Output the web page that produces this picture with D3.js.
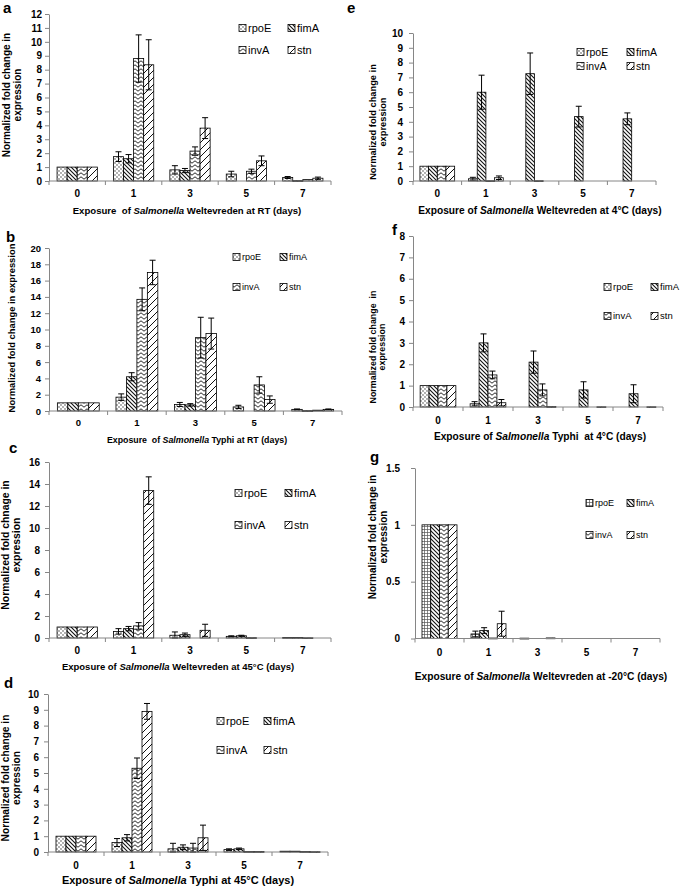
<!DOCTYPE html>
<html>
<head>
<meta charset="utf-8">
<script src="https://cdn.jsdelivr.net/npm/d3@7"></script>
<style>
  body { margin: 0; background: #fff; }
  text { font-family: "Liberation Sans", Arial, sans-serif; }
</style>
</head>
<body>
<div id="chart"></div>
<script>
// categories and series (rows: rpoE, fimA, invA, stn; columns: days 0,1,3,5,7)
var categories = ["0", "1", "3", "5", "7"];
var genes = ["rpoE", "fimA", "invA", "stn"];

// a: Weltevreden at RT
var aMean = [[1, 1.75, 0.8, 0.5, 0.25], [1, 1.6, 0.75, 0, 0.03], [1, 8.8, 2.15, 0.7, 0.1], [1, 8.35, 3.8, 1.45, 0.2]];
var aErr  = [[0, 0.35, 0.3, 0.2, 0.07], [0, 0.3, 0.15, 0, 0], [0, 1.7, 0.3, 0.15, 0], [0, 1.8, 0.75, 0.35, 0.08]];
var aTicks = [0, 1, 2, 3, 4, 5, 6, 7, 8, 9, 10, 11, 12];

// b: Typhi at RT
var bMean = [[1, 1.7, 0.8, 0.5, 0.2], [1, 4.2, 0.75, 0, 0.05], [1, 13.7, 9.0, 3.2, 0.1], [1, 17.0, 9.5, 1.4, 0.2]];
var bErr  = [[0, 0.4, 0.25, 0.2, 0.05], [0, 0.5, 0.15, 0, 0], [0, 1.4, 2.5, 1.0, 0], [0, 1.5, 1.9, 0.45, 0.05]];
var bTicks = [0, 2, 4, 6, 8, 10, 12, 14, 16, 18, 20];

// c: Weltevreden at 45°C
var cMean = [[1, 0.6, 0.25, 0.15, 0.05], [1, 0.85, 0.3, 0.2, 0.05], [1, 1.1, 0, 0.03, 0.02], [1, 13.4, 0.7, 0, 0]];
var cErr  = [[0, 0.25, 0.3, 0.05, 0], [0, 0.2, 0.15, 0.05, 0], [0, 0.3, 0, 0, 0], [0, 1.25, 0.55, 0, 0]];
var cTicks = [0, 2, 4, 6, 8, 10, 12, 14, 16];

// d: Typhi at 45°C
var dMean = [[1, 0.6, 0.2, 0.15, 0.05], [1, 0.9, 0.3, 0.2, 0.05], [1, 5.3, 0.25, 0.03, 0.03], [1, 8.9, 0.9, 0.03, 0.02]];
var dErr  = [[0, 0.25, 0.35, 0.05, 0], [0, 0.2, 0.15, 0.05, 0], [0, 0.65, 0.3, 0, 0], [0, 0.5, 0.8, 0, 0]];
var dTicks = [0, 1, 2, 3, 4, 5, 6, 7, 8, 9, 10];

// e: Weltevreden at 4°C
var eMean = [[1, 0.15, 0, 0, 0], [1, 6.0, 7.25, 4.35, 4.2], [1, 0.02, 0.02, 0, 0], [1, 0.22, 0, 0, 0]];
var eErr  = [[0, 0.1, 0, 0, 0], [0, 1.15, 1.4, 0.7, 0.4], [0, 0, 0, 0, 0], [0, 0.12, 0, 0, 0]];
var eTicks = [0, 1, 2, 3, 4, 5, 6, 7, 8, 9, 10];

// f: Typhi at 4°C
var fMean = [[1, 0.15, 0, 0, 0], [1, 3.0, 2.1, 0.8, 0.62], [1, 1.5, 0.8, 0, 0], [1, 0.2, 0.02, 0.01, 0.01]];
var fErr  = [[0, 0.1, 0, 0, 0], [0, 0.42, 0.52, 0.38, 0.42], [0, 0.18, 0.28, 0, 0], [0, 0.15, 0, 0, 0]];
var fTicks = [0, 1, 2, 3, 4, 5, 6, 7, 8];

// g: Weltevreden at -20°C
var gMean = [[1, 0.04, 0.003, 0, 0], [1, 0.07, 0, 0, 0], [1, 0.004, 0, 0, 0], [1, 0.13, 0.005, 0, 0]];
var gErr  = [[0, 0.025, 0, 0, 0], [0, 0.025, 0, 0, 0], [0, 0, 0, 0, 0], [0, 0.11, 0, 0, 0]];
var gTicks = [0, 0.5, 1, 1.5];

// layout for each panel
var panels = [
  { letter: "a", lx: 3, ly: 13, mean: aMean, err: aErr, ticks: aTicks,
    x0: 49, x1: 331, yTop: 14, yBot: 181, tickFont: 10, tickPad: 3,
    catY: 197, title: ["Exposure  of ", "Salmonella", " Weltevreden at RT (days)"], titleX: 187, titleY: 214, titleFont: 9.6,
    yTitle: ["Normalized fold change in", "expression"], yTitleX: 9.5, yTitleY: 95, yTitleFont: 10,
    legX: 239, legY: 28, legCol: 49, legRow: 22, legFont: 11 },
  { letter: "b", lx: 6, ly: 242, mean: bMean, err: bErr, ticks: bTicks,
    x0: 49, x1: 342, yTop: 248, yBot: 411, tickFont: 9.5, tickPad: 4,
    catY: 426, title: ["Exposure  of ", "Salmonella", " Typhi at RT (days)"], titleX: 197, titleY: 443, titleFont: 8.8,
    yTitle: ["Normalized fold change in expression"], yTitleX: 15, yTitleY: 328, yTitleFont: 9.4,
    legX: 233, legY: 257, legCol: 47, legRow: 30, legFont: 9 },
  { letter: "c", lx: 9, ly: 453, mean: cMean, err: cErr, ticks: cTicks,
    x0: 49, x1: 331, yTop: 462, yBot: 638, tickFont: 10, tickPad: 5,
    catY: 654, title: ["Exposure of ", "Salmonella", " Weltevreden at 45°C (days)"], titleX: 178, titleY: 670, titleFont: 9.5,
    yTitle: ["Normalized fold chnage in", "expression"], yTitleX: 9, yTitleY: 545, yTitleFont: 10.4,
    legX: 235, legY: 493, legCol: 50, legRow: 32, legFont: 11 },
  { letter: "d", lx: 4, ly: 688, mean: dMean, err: dErr, ticks: dTicks,
    x0: 48, x1: 328, yTop: 694, yBot: 852, tickFont: 10, tickPad: 5,
    catY: 869, title: ["Exposure of ", "Salmonella", " Typhi at 45°C (days)"], titleX: 178, titleY: 884, titleFont: 11,
    yTitle: ["Normalized fold change in", "expression"], yTitleX: 9, yTitleY: 778, yTitleFont: 10.2,
    legX: 217, legY: 721, legCol: 47, legRow: 29, legFont: 11 },
  { letter: "e", lx: 347, ly: 13, mean: eMean, err: eErr, ticks: eTicks,
    x0: 413, x1: 656, yTop: 33, yBot: 181, tickFont: 10, tickPad: 6,
    catY: 197, title: ["Exposure of ", "Salmonella", " Weltevreden at 4°C (days)"], titleX: 540, titleY: 214, titleFont: 10.2,
    yTitle: ["Normalized fold change in", "expression"], yTitleX: 375.5, yTitleY: 122, yTitleFont: 9.3,
    legX: 577, legY: 52, legCol: 50, legRow: 14, legFont: 10.5 },
  { letter: "f", lx: 392, ly: 235, mean: fMean, err: fErr, ticks: fTicks,
    x0: 413, x1: 663, yTop: 236, yBot: 407, tickFont: 10, tickPad: 4,
    catY: 424, title: ["Exposure of ", "Salmonella", " Typhi  at 4°C (days)"], titleX: 540, titleY: 440, titleFont: 10.2,
    yTitle: ["Normalized fold change  in", "expression"], yTitleX: 375.5, yTitleY: 347, yTitleFont: 8.9,
    legX: 604, legY: 287, legCol: 47, legRow: 29, legFont: 9.5 },
  { letter: "g", lx: 370, ly: 462, mean: gMean, err: gErr, ticks: gTicks, rpoEPattern: "grid",
    x0: 415, x1: 660, yTop: 468, yBot: 638.5, tickFont: 10, tickPad: 11,
    catY: 656, title: ["Exposure of ", "Salmonella", " Weltevreden at -20°C (days)"], titleX: 541, titleY: 680, titleFont: 10.2,
    yTitle: ["Normalized fold change in", "expression"], yTitleX: 375.5, yTitleY: 537, yTitleFont: 10,
    legX: 586, legY: 503, legCol: 41, legRow: 32, legFont: 9 }
];

var svg = d3.select("#chart").append("svg")
  .attr("width", 685)
  .attr("height", 887)
  .style("background", "#fff");

// fill patterns for the bars
var defs = svg.append("defs");

function addPattern(id, w, h, draw) {
  var p = defs.append("pattern")
    .attr("id", id)
    .attr("patternUnits", "userSpaceOnUse")
    .attr("width", w)
    .attr("height", h);
  p.append("rect").attr("width", w).attr("height", h).attr("fill", "#fff");
  draw(p);
}

addPattern("pat-rpoE", 4, 4, function(p) {
  p.append("circle").attr("cx", 1).attr("cy", 1).attr("r", 0.65).attr("fill", "#222");
  p.append("circle").attr("cx", 3).attr("cy", 3).attr("r", 0.65).attr("fill", "#222");
});
addPattern("pat-fimA", 4, 4, function(p) {
  p.append("path").attr("d", "M-1,-1L5,5M-1,3L1,5M3,-1L5,1")
    .attr("stroke", "#111").attr("stroke-width", 1.1);
});
addPattern("pat-invA", 6, 4, function(p) {
  p.append("path").attr("d", "M0,3.2L3,0.8L6,3.2")
    .attr("stroke", "#111").attr("stroke-width", 0.9).attr("fill", "none");
});
addPattern("pat-stn", 7, 7, function(p) {
  p.append("path").attr("d", "M0,7L7,0M-1,1L1,-1M6,8L8,6")
    .attr("stroke", "#111").attr("stroke-width", 1);
});
addPattern("pat-grid", 3, 3, function(p) {
  p.append("path").attr("d", "M1.5,0V3M0,1.5H3")
    .attr("stroke", "#555").attr("stroke-width", 0.7);
});

function patternFor(p, gene) {
  if (gene === "rpoE" && p.rpoEPattern) return "url(#pat-" + p.rpoEPattern + ")";
  return "url(#pat-" + gene + ")";
}

function drawPanel(p) {
  var g = svg.append("g");

  var x = d3.scaleBand()
    .domain(categories)
    .range([p.x0, p.x1])
    .padding(0);

  var inner = d3.scaleBand()
    .domain(genes)
    .range([0, x.bandwidth()])
    .paddingInner(0)
    .paddingOuter(0.8);

  var y = d3.scaleLinear()
    .domain([0, p.ticks[p.ticks.length - 1]])
    .range([p.yBot, p.yTop]);

  // y axis
  var leftAxis = d3.axisLeft(y)
    .tickValues(p.ticks)
    .tickFormat(function(d) { return String(d); })
    .tickSize(4)
    .tickSizeOuter(0)
    .tickPadding(p.tickPad);

  var yAxis = g.append("g")
    .attr("transform", "translate(" + p.x0 + ",0)")
    .call(leftAxis);
  yAxis.select(".domain").attr("stroke", "#868686");
  yAxis.selectAll(".tick line").attr("stroke", "#868686");
  yAxis.selectAll(".tick text")
    .attr("fill", "#000")
    .style("font-family", "'Liberation Sans', Arial, sans-serif")
    .style("font-weight", "bold")
    .style("font-size", p.tickFont + "px");

  // bars
  genes.forEach(function(gene, gi) {
    var rows = categories.map(function(c, ci) {
      return { cat: c, v: p.mean[gi][ci], e: p.err[gi][ci] };
    });

    g.append("g").selectAll("rect")
      .data(rows.filter(function(d) { return d.v > 0; }))
      .enter()
      .append("rect")
      .attr("x", function(d) { return x(d.cat) + inner(gene); })
      .attr("y", function(d) { return y(d.v); })
      .attr("width", inner.bandwidth())
      .attr("height", function(d) { return Math.max(0.8, p.yBot - y(d.v)); })
      .attr("fill", patternFor(p, gene))
      .attr("stroke", "#000")
      .attr("stroke-width", 0.8);

    // error bars
    var eb = g.append("g").selectAll("g")
      .data(rows.filter(function(d) { return d.e > 0; }))
      .enter()
      .append("g")
      .attr("transform", function(d) {
        return "translate(" + (x(d.cat) + inner(gene) + inner.bandwidth() / 2) + ",0)";
      });

    eb.append("line")
      .attr("y1", function(d) { return y(Math.max(0, d.v - d.e)); })
      .attr("y2", function(d) { return y(d.v + d.e); })
      .attr("stroke", "#000")
      .attr("stroke-width", 1);
    eb.append("line")
      .attr("x1", -3).attr("x2", 3)
      .attr("y1", function(d) { return y(d.v + d.e); })
      .attr("y2", function(d) { return y(d.v + d.e); })
      .attr("stroke", "#000")
      .attr("stroke-width", 1);
    eb.append("line")
      .attr("x1", -3).attr("x2", 3)
      .attr("y1", function(d) { return y(Math.max(0, d.v - d.e)); })
      .attr("y2", function(d) { return y(Math.max(0, d.v - d.e)); })
      .attr("stroke", "#000")
      .attr("stroke-width", 1);
  });

  // x axis line, category boundary ticks and labels
  g.append("line")
    .attr("x1", p.x0).attr("x2", p.x1)
    .attr("y1", p.yBot).attr("y2", p.yBot)
    .attr("stroke", "#868686");

  var bounds = categories.map(function(c) { return x(c); }).concat([p.x1]);
  g.selectAll(".xtick")
    .data(bounds)
    .enter()
    .append("line")
    .attr("x1", function(d) { return d; })
    .attr("x2", function(d) { return d; })
    .attr("y1", p.yBot)
    .attr("y2", p.yBot + 4)
    .attr("stroke", "#868686");

  g.selectAll(".xlabel")
    .data(categories)
    .enter()
    .append("text")
    .attr("x", function(d) { return x(d) + x.bandwidth() / 2; })
    .attr("y", p.catY)
    .attr("text-anchor", "middle")
    .style("font-weight", "bold")
    .style("font-size", p.tickFont + "px")
    .text(function(d) { return d; });

  // x title with italic genus name
  var t = g.append("text")
    .attr("x", p.titleX)
    .attr("y", p.titleY)
    .attr("text-anchor", "middle")
    .style("font-weight", "bold")
    .style("font-size", p.titleFont + "px")
    .style("white-space", "pre");
  p.title.forEach(function(part, i) {
    t.append("tspan")
      .style("font-style", i === 1 ? "italic" : "normal")
      .text(part);
  });

  // y title
  var yt = g.append("g")
    .attr("transform", "translate(" + p.yTitleX + "," + p.yTitleY + ") rotate(-90)");
  p.yTitle.forEach(function(line, i) {
    yt.append("text")
      .attr("x", 0)
      .attr("y", i * (p.yTitleFont * 1.1))
      .attr("text-anchor", "middle")
      .style("font-weight", "bold")
      .style("font-size", p.yTitleFont + "px")
      .style("white-space", "pre")
      .text(line);
  });

  // legend 2 x 2
  genes.forEach(function(gene, i) {
    var lx = p.legX + (i % 2) * p.legCol;
    var ly = p.legY + Math.floor(i / 2) * p.legRow;
    g.append("rect")
      .attr("x", lx)
      .attr("y", ly - 3.5)
      .attr("width", 7)
      .attr("height", 7)
      .attr("fill", patternFor(p, gene))
      .attr("stroke", "#000")
      .attr("stroke-width", 0.8);
    g.append("text")
      .attr("x", lx + 9)
      .attr("y", ly + p.legFont * 0.36)
      .style("font-size", p.legFont + "px")
      .text(gene);
  });

  // panel letter
  g.append("text")
    .attr("x", p.lx)
    .attr("y", p.ly)
    .style("font-weight", "bold")
    .style("font-size", "15px")
    .text(p.letter);
}

panels.forEach(drawPanel);
</script>
</body>
</html>
